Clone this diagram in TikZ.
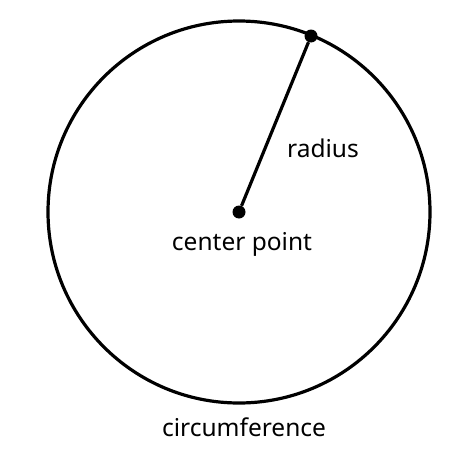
\documentclass[tikz,border=0pt]{standalone}
\usepackage{fontspec}
\setmainfont{Noto Sans}
\begin{document}
\begin{tikzpicture}[x=1pt,y=-1pt]
        \tikzstyle{point}=[circle,fill=black,inner sep=0pt,minimum size=13pt]
        \tikzstyle{word}=[font=\fontsize{24.5}{28}\selectfont,inner sep=0pt,anchor=base]
        \tikzstyle{edge}=[draw, line width=3.2pt]
        \useasboundingbox (0,0) rectangle (474,463);
        \path[edge] (239,212) circle[radius=191pt];
        \node [point] (cp) at (239,212) {};
        \node [point] (rp) at (311,36) {};
        \path[edge] (cp) -- (rp);
        \node [word] (rlabel) at (323,157) {radius};
        \node [word] (clabel) at (242,250) {center point};
        \node [word] (flabel) at (244,436) {circumference};
      \end{tikzpicture}
\end{document}
